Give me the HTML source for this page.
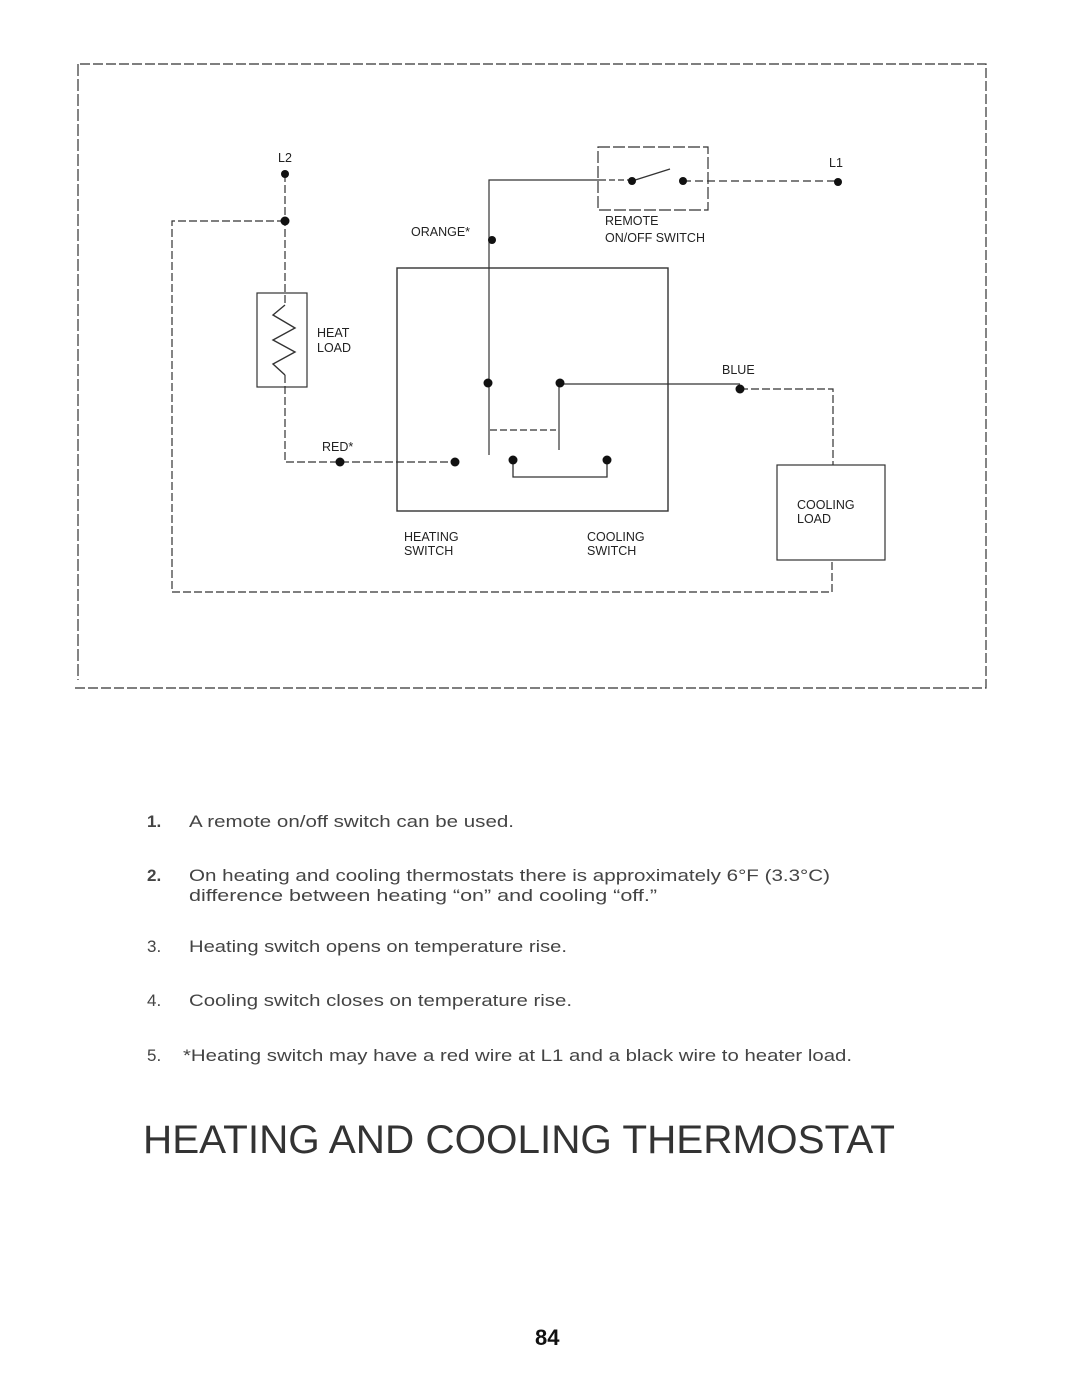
<!DOCTYPE html>
<html><head><meta charset="utf-8"><style>
html,body{margin:0;padding:0;background:#fff;}
svg{display:block;}
text{font-family:"Liberation Sans",sans-serif;}
</style></head><body>
<svg width="1070" height="1389" viewBox="0 0 1070 1389" xmlns="http://www.w3.org/2000/svg">
<g fill="none" stroke="#333" stroke-width="1.2">
<path d="M80 64 H986 V688 H72" stroke-dasharray="10 3"/>
<path d="M78 64 V680" stroke-dasharray="12 3"/>
<path d="M285 174 V305 M285 375 V462 H455" stroke-dasharray="8 3"/>
<path d="M285 221 H172 V592 H832 V560" stroke-dasharray="8 3"/>
<rect x="257" y="293" width="50" height="94"/>
<polyline points="285,305 273,315 295,328 273,340 295,352 273,364 285,375" stroke-width="1.4"/>
<rect x="397" y="268" width="271" height="243" stroke-width="1.4"/>
<path d="M489 455 V180 H600"/>
<path d="M600 180 H632" stroke-dasharray="6 3"/>
<rect x="598" y="147" width="110" height="63" stroke-dasharray="12 3"/>
<path d="M632 181 L670 169" stroke-width="1.4"/>
<path d="M683 181 H838" stroke-dasharray="8 4"/>
<path d="M559 450 V384 H740"/>
<path d="M740 389 H833 V465" stroke-dasharray="8 3"/>
<path d="M490 430 H556" stroke-dasharray="7 3"/>
<path d="M513 460 V477 H607 V460" stroke-width="1.3"/>
<rect x="777" y="465" width="108" height="95"/>
</g>
<g fill="#111">
<circle cx="285" cy="174" r="4"/>
<circle cx="285" cy="221" r="4.5"/>
<circle cx="492" cy="240" r="4"/>
<circle cx="632" cy="181" r="4"/>
<circle cx="683" cy="181" r="4"/>
<circle cx="838" cy="182" r="4"/>
<circle cx="488" cy="383" r="4.5"/>
<circle cx="560" cy="383" r="4.5"/>
<circle cx="740" cy="389" r="4.5"/>
<circle cx="340" cy="462" r="4.5"/>
<circle cx="455" cy="462" r="4.5"/>
<circle cx="513" cy="460" r="4.5"/>
<circle cx="607" cy="460" r="4.5"/>
</g>
<g font-size="12.5" fill="#222">
<text x="278" y="162">L2</text>
<text x="829" y="167">L1</text>
<text x="605" y="225">REMOTE</text>
<text x="605" y="242">ON/OFF SWITCH</text>
<text x="411" y="236">ORANGE*</text>
<text x="317" y="337">HEAT</text>
<text x="317" y="352">LOAD</text>
<text x="722" y="374">BLUE</text>
<text x="322" y="451">RED*</text>
<text x="404" y="541">HEATING</text>
<text x="404" y="555">SWITCH</text>
<text x="587" y="541">COOLING</text>
<text x="587" y="555">SWITCH</text>
<text x="797" y="509">COOLING</text>
<text x="797" y="523">LOAD</text>
</g>
<g font-size="17" fill="#444">
<text x="147" y="827" font-weight="bold">1.</text>
<text x="189" y="827" textLength="325" lengthAdjust="spacingAndGlyphs">A remote on/off switch can be used.</text>
<text x="147" y="881" font-weight="bold">2.</text>
<text x="189" y="881" textLength="641" lengthAdjust="spacingAndGlyphs">On heating and cooling thermostats there is approximately 6°F (3.3°C)</text>
<text x="189" y="901" textLength="468" lengthAdjust="spacingAndGlyphs">difference between heating “on” and cooling “off.”</text>
<text x="147" y="952">3.</text>
<text x="189" y="952" textLength="378" lengthAdjust="spacingAndGlyphs">Heating switch opens on temperature rise.</text>
<text x="147" y="1006">4.</text>
<text x="189" y="1006" textLength="383" lengthAdjust="spacingAndGlyphs">Cooling switch closes on temperature rise.</text>
<text x="147" y="1061">5.</text>
<text x="183" y="1061" textLength="669" lengthAdjust="spacingAndGlyphs">*Heating switch may have a red wire at L1 and a black wire to heater load.</text>
</g>
<text x="143" y="1153" font-size="40" textLength="752" lengthAdjust="spacingAndGlyphs" fill="#333">HEATING AND COOLING THERMOSTAT</text>
<text x="535" y="1345" font-size="22" font-weight="bold" fill="#111">84</text>
</svg>
</body></html>
